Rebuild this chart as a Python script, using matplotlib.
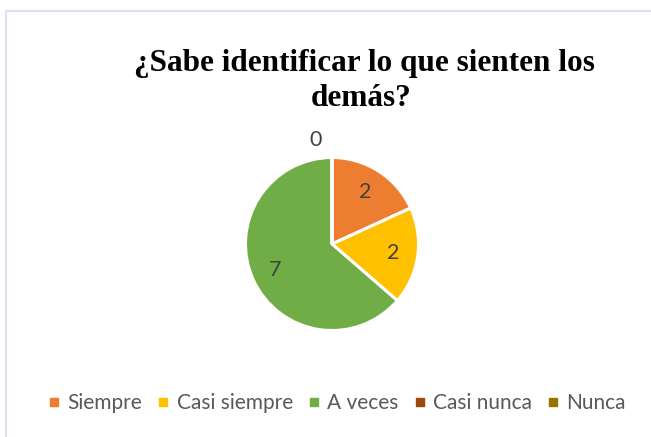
import numpy as np
import matplotlib.pyplot as plt
from matplotlib.lines import Line2D
from matplotlib.patches import Rectangle

categories = ["Siempre", "Casi siempre", "A veces", "Casi nunca", "Nunca"]
values = [2, 2, 7, 0, 0]
colors = ["#ED7D31", "#FFC000", "#70AD47", "#9E480E", "#997300"]
title_lines = ["¿Sabe identificar lo que sienten los", "demás?"]

W, H = 651, 437
fig = plt.figure(figsize=(W / 100, H / 100), dpi=100)
fig.patch.set_facecolor("white")

# light chart-area frame (top and left edges visible)
fig.add_artist(Rectangle((6 / W, -0.05), 1.2, 1 - 11 / H + 0.05, transform=fig.transFigure,
                         fill=False, edgecolor="#DAE3F3", linewidth=1.5))

# title
fig.text(364 / W, 1 - 71 / H, title_lines[0], family="Liberation Serif", weight="bold",
         fontsize=22.5, ha="center", va="baseline", color="black")
fig.text(361 / W, 1 - 106 / H, title_lines[1], family="Liberation Serif", weight="bold",
         fontsize=22.5, ha="center", va="baseline", color="black")

# pie axes: center (332, 244) px, radius 86.5 px
r_px = 86.5
lim = 1.35
size = 2 * lim * r_px
cx, cy = 332, H - 244
ax = fig.add_axes([(cx - size / 2) / W, (cy - size / 2) / H, size / W, size / H])
wedges, _ = ax.pie(values, colors=colors, startangle=90, counterclock=False,
                   wedgeprops=dict(edgecolor="white", linewidth=2.2))
ax.set_xlim(-lim, lim)
ax.set_ylim(-lim, lim)
ax.set_aspect("equal")
ax.axis("off")

zero_done = False
for w, v in zip(wedges, values):
    mid = np.deg2rad((w.theta1 + w.theta2) / 2)
    if v == 0:
        if zero_done:
            continue
        zero_done = True
        ax.annotate(str(v), (1.2 * np.cos(mid), 1.2 * np.sin(mid)), xytext=(-12, 0),
                    textcoords="offset points", ha="center", va="center",
                    fontsize=15.5, family="Lato", color="#404040")
    else:
        ax.text(0.72 * np.cos(mid), 0.72 * np.sin(mid), str(v), ha="center", va="center",
                fontsize=15.5, family="Lato", color="#404040")

handles = [Line2D([], [], marker="s", linestyle="none", markersize=6,
                  markerfacecolor=c, markeredgecolor=c) for c in colors]
fig.legend(handles, categories, loc="center", bbox_to_anchor=(337 / W, 1 - 403 / H),
           ncol=5, frameon=False, handlelength=0.6, handletextpad=0.35,
           columnspacing=0.7, prop=dict(family="Lato", size=15), labelcolor="#595959")

fig.savefig("out.png", dpi=100)
